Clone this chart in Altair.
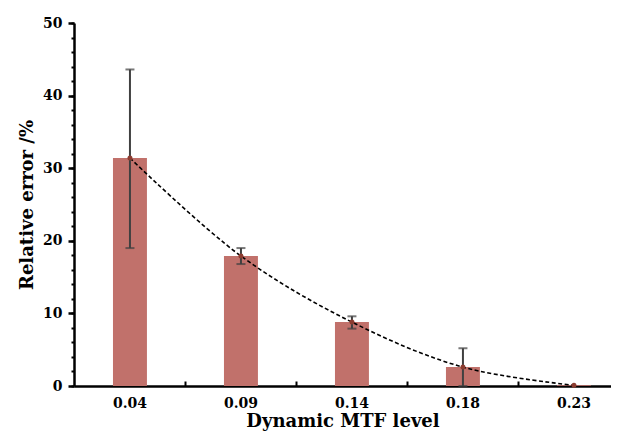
import altair as alt
import pandas as pd

categories = ["0.04", "0.09", "0.14", "0.18", "0.23"]
values = [31.4, 17.9, 8.8, 2.6, 0.1]
err_low = [19.0, 16.8, 7.9, 0.0, None]
err_high = [43.6, 19.0, 9.6, 5.2, None]

y_major = [0, 10, 20, 30, 40, 50]
y_minor = list(range(0, 51, 2))

df = pd.DataFrame({"cat": categories, "val": values, "lo": err_low, "hi": err_high})
df_err = df.dropna()

FONT = "DejaVu Serif"
xscale = alt.Scale(domain=categories, paddingInner=0.694, paddingOuter=0.266, align=0.66)
yscale = alt.Scale(domain=[0, 50], nice=False)

base = alt.Chart(df)

bars = base.mark_bar(color="#c1716b").encode(
    x=alt.X("cat:N", scale=xscale, sort=categories, title="Dynamic MTF level",
            axis=alt.Axis(orient="bottom", domain=True, domainColor="black", domainWidth=2.5,
                          ticks=False, labelAngle=0, labelPadding=10, grid=False,
                          labelFont=FONT, labelFontSize=14, labelFontWeight="bold", labelColor="black",
                          titleFont=FONT, titleFontSize=18, titleFontWeight="bold", titleColor="black",
                          titlePadding=2)),
    y=alt.Y("val:Q", scale=yscale, title="Relative error /%",
            axis=alt.Axis(orient="left", values=y_major, tickSize=6, tickWidth=2.5, tickColor="black",
                          domain=True, domainColor="black", domainWidth=2.5, grid=False,
                          labelPadding=6, labelFont=FONT, labelFontSize=14, labelFontWeight="bold",
                          labelColor="black", titleFont=FONT, titleFontSize=18, titleFontWeight="bold",
                          titleColor="black", titlePadding=6)),
)

minor = alt.Chart(df).mark_point(opacity=0).encode(
    x=alt.X("cat:N", scale=xscale, sort=categories, title=None,
            axis=alt.Axis(orient="bottom", domain=False, labels=False, ticks=True,
                          tickSize=alt.ExprRef(expr="-5"), tickOffset=55.5,
                          tickWidth=2, tickColor="black", grid=False, title=None)),
    y=alt.Y("val:Q", scale=yscale, title=None,
            axis=alt.Axis(orient="left", values=y_minor, labels=False, domain=False, tickSize=3,
                          tickWidth=2, tickColor="black", grid=False, title=None)),
)

err = alt.Chart(df_err).mark_rule(color="#404040", strokeWidth=2).encode(
    x=alt.X("cat:N", scale=xscale, sort=categories, axis=None),
    y=alt.Y("lo:Q", scale=yscale, axis=None),
    y2="hi:Q",
)
cap_hi = alt.Chart(df_err).mark_tick(color="#404040", size=9, thickness=2).encode(
    x=alt.X("cat:N", scale=xscale, sort=categories, axis=None),
    y=alt.Y("hi:Q", scale=yscale, axis=None),
)
cap_lo = alt.Chart(df_err).mark_tick(color="#404040", size=9, thickness=2).encode(
    x=alt.X("cat:N", scale=xscale, sort=categories, axis=None),
    y=alt.Y("lo:Q", scale=yscale, axis=None),
)
line = base.mark_line(color="black", strokeDash=[4, 2.5], strokeWidth=1.6,
                      interpolate="catmull-rom").encode(
    x=alt.X("cat:N", scale=xscale, sort=categories, axis=None),
    y=alt.Y("val:Q", scale=yscale, axis=None),
)
pts = base.mark_circle(color="#8c3c30", size=25, opacity=1).encode(
    x=alt.X("cat:N", scale=xscale, sort=categories, axis=None),
    y=alt.Y("val:Q", scale=yscale, axis=None),
)

chart = alt.layer(bars, minor, err, cap_hi, cap_lo, line, pts).resolve_axis(
    x="independent", y="independent"
).properties(
    width=537, height=363,
    background="white",
    autosize=alt.AutoSizeParams(type="none"),
    padding={"left": 66, "top": 15, "right": 0, "bottom": 45},
).configure_view(stroke="transparent", strokeWidth=0).configure_axis(grid=False)

chart.save("out.html", embed_options={"renderer": "svg", "actions": False})
